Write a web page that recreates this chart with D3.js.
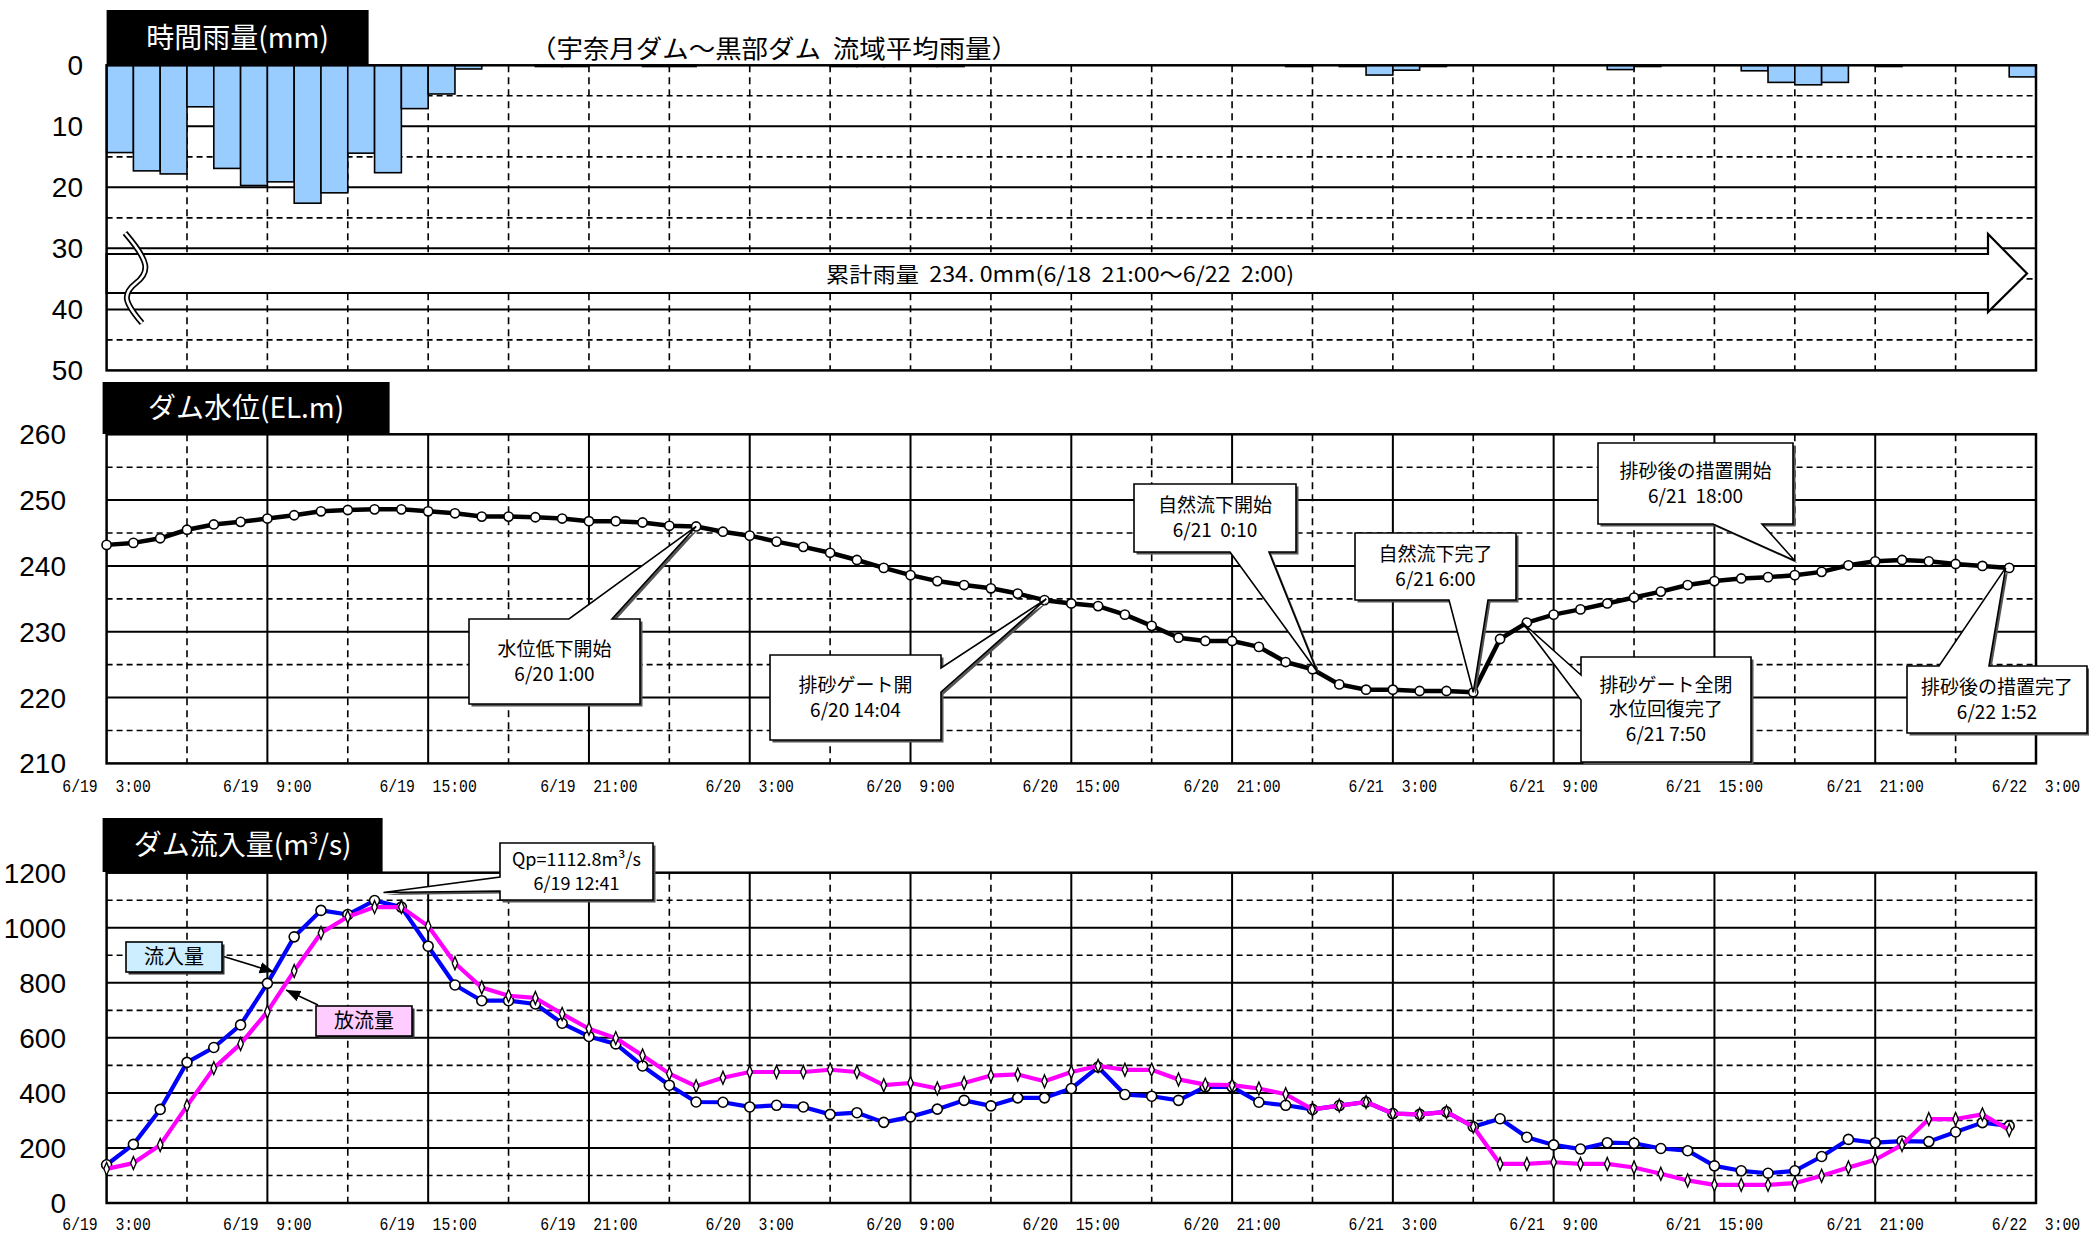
<!DOCTYPE html>
<html><head><meta charset="utf-8">
<script src="https://cdn.jsdelivr.net/npm/d3@7"></script>
<style>
html,body{margin:0;padding:0;background:#fff;}
svg{display:block;}
</style></head>
<body>
<svg id="chart" width="2089" height="1238"></svg>
<script>
// ---------------- DATA ----------------
const startTime = "2013-06-19T03:00:00";   // first hourly value (6/19 3:00)
const hoursSpan = 72;                        // axis 6/19 3:00 .. 6/22 3:00

// hourly rainfall (mm), hour starting 6/19 3:00
const rainfall = [14.3,17.3,17.8,6.8,16.9,19.7,19.1,22.6,20.9,14.4,17.6,7.1,4.7,0.6,0,0,0.2,0.2,0,0,0.2,0.2,0,0,
                  0,0,0,0.2,0.2,0.2,0.2,0.2,0,0,0,0,0,0,0,0,0,0,0,0,0.2,0,0.2,1.6,
                  0.8,0.2,0,0,0,0,0,0,0.7,0.2,0,0,0,0.9,2.8,3.2,2.8,0,0.2,0,0,0,0,1.9];

// dam water level (EL.m), hourly from 6/19 3:00 to 6/22 2:00
const damLevel = [243.2,243.5,244.2,245.5,246.3,246.7,247.2,247.7,248.3,248.5,248.6,248.6,248.3,248.0,247.5,247.5,247.4,247.2,246.8,246.8,246.6,246.1,246.0,
                  245.2,244.6,243.7,242.9,242.0,240.9,239.7,238.6,237.7,237.1,236.6,235.8,234.8,234.3,233.9,232.6,230.9,229.1,228.6,228.6,227.7,225.4,224.3,222.0,221.2,221.2,
                  221.0,221.0,220.8,228.9,231.4,232.6,233.4,234.3,235.2,236.1,237.1,237.7,238.1,238.3,238.6,239.1,240.1,240.7,240.9,240.7,240.3,240.0,239.7];

// inflow (m3/s)
const inflow = [139,213,340,511,565,647,798,967,1063,1048,1099,1075,933,792,735,735,723,653,605,578,498,428,367,
                366,349,355,349,322,328,293,313,341,373,353,382,382,416,494,394,388,373,422,422,366,355,340,354,367,325,
                322,331,277,306,239,211,196,219,217,198,190,135,117,108,117,169,231,219,225,223,258,292,280];
// outflow (m3/s)
const outflow = [124,145,211,353,490,578,695,843,981,1040,1075,1075,1006,871,783,753,745,687,633,599,536,470,424,
                 455,476,476,476,484,476,428,436,416,436,463,467,442,476,498,484,484,449,430,428,416,395,340,354,367,325,
                 322,331,277,142,142,148,142,142,129,106,82,66,66,66,72,99,129,157,211,305,305,322,265];

const rainTicks = [0,10,20,30,40,50];
const levelTicks = [210,220,230,240,250,260];
const flowTicks = [0,200,400,600,800,1000,1200];
const xTickLabels = ["6/19  3:00","6/19  9:00","6/19  15:00","6/19  21:00","6/20  3:00","6/20  9:00","6/20  15:00",
                     "6/20  21:00","6/21  3:00","6/21  9:00","6/21  15:00","6/21  21:00","6/22  3:00"];

const levelNotes = [
  {lines:["水位低下開始","6/20 1:00"], time:"2013-06-20T01:00", value:246.0, box:[469,619,171,85], edge:"top", base:[569,612]},
  {lines:["排砂ゲート開","6/20 14:04"], time:"2013-06-20T14:04", value:235.0, box:[770,655,171,85], edge:"right", base:[668,692]},
  {lines:["自然流下開始","6/21  0:10"], time:"2013-06-21T00:10", value:224.0, box:[1134,484,162,68], edge:"bottom", base:[1230,1269]},
  {lines:["自然流下完了","6/21 6:00"], time:"2013-06-21T06:00", value:220.8, box:[1355,533,161,67], edge:"bottom", base:[1449,1488]},
  {lines:["排砂ゲート全閉","水位回復完了","6/21 7:50"], time:"2013-06-21T07:50", value:231.4, box:[1581,657,170,105], edge:"left", base:[675,700]},
  {lines:["排砂後の措置開始","6/21  18:00"], time:"2013-06-21T18:00", value:240.8, box:[1598,443,195,81], edge:"bottom", base:[1713,1762]},
  {lines:["排砂後の措置完了","6/22 1:52"], time:"2013-06-22T01:52", value:239.7, box:[1907,666,180,67], edge:"top", base:[1939,1989]}
];

// ---------------- LAYOUT ----------------
const svg = d3.select("#chart");
const L = 106.6, R = 2036;
const parse = d3.isoParse;
const t0 = parse(startTime);
const tEnd = d3.timeHour.offset(t0, hoursSpan);
const x = d3.scaleTime().domain([t0, tEnd]).range([L, R]);
const hourTime = i => d3.timeHour.offset(t0, i);

const yRain = d3.scaleLinear().domain([0,50]).range([65.3, 370.4]);
const yLevel = d3.scaleLinear().domain([210,260]).range([763.4, 434.3]);
const yFlow = d3.scaleLinear().domain([0,1200]).range([1203, 872.7]);

const numFont = "'Liberation Sans', Arial, sans-serif";
const jpFont = "'Noto Sans CJK JP', 'Noto Sans', sans-serif";

function hGrid(g, y, vals, solidTest) {
  vals.forEach(v => {
    g.append("line").attr("x1", L).attr("x2", R).attr("y1", y(v)).attr("y2", y(v))
      .attr("stroke", "#000").attr("stroke-width", solidTest(v) ? 2 : 1.6)
      .attr("stroke-dasharray", solidTest(v) ? null : "6,4");
  });
}
function vGrid(g, y0, y1, allDashed) {
  for (let h = 3; h < hoursSpan; h += 3) {
    const solid = !allDashed && h % 6 === 0;
    g.append("line").attr("x1", x(hourTime(h))).attr("x2", x(hourTime(h))).attr("y1", y0).attr("y2", y1)
      .attr("stroke", "#000").attr("stroke-width", solid ? 2 : 1.6)
      .attr("stroke-dasharray", solid ? null : "7,5");
  }
}
function frame(g, y0, y1) {
  g.append("rect").attr("x", L).attr("y", y0).attr("width", R - L).attr("height", y1 - y0)
    .attr("fill", "none").attr("stroke", "#000").attr("stroke-width", 2.5);
}
function titleBox(g, x0, y0, w, h, text, sup) {
  g.append("rect").attr("x", x0).attr("y", y0).attr("width", w).attr("height", h).attr("fill", "#000");
  const t = g.append("text").attr("x", x0 + w/2).attr("y", y0 + h/2 + 10).attr("text-anchor", "middle")
    .attr("fill", "#fff").attr("font-family", jpFont).attr("font-size", 28).text(text);
  if (sup) {
    t.append("tspan").attr("font-size", 16).attr("dy", -11).text(sup.s);
    t.append("tspan").attr("font-size", 28).attr("dy", 11).text(sup.rest);
  }
}
function yLabels(g, y, ticks, xr) {
  ticks.forEach(v => g.append("text").attr("x", xr).attr("y", y(v) + 10).attr("text-anchor", "end")
    .attr("font-family", numFont).attr("font-size", 28).attr("fill", "#000").text(v));
}
function xLabels(g, yText) {
  const sx = 0.82, cw = 18 * 0.6 * sx;   // scaled monospace char width
  xTickLabels.forEach((s, i) => {
    const len = s.length * cw;
    const cx = x(hourTime(i*6));
    const startX = Math.min(cx - len/2, 2084 - len);
    g.append("text").attr("transform", `translate(${startX},${yText}) scale(${sx},1)`)
      .attr("text-anchor", "start").attr("font-family", "'Liberation Mono', 'DejaVu Sans Mono', monospace")
      .attr("font-size", 18).style("white-space", "pre").text(s);
  });
}
function calloutPath(b, edge, base, tip) {
  const [bx, by, bw, bh] = b; const [a, c] = base; const [tx, ty] = tip;
  const r = bx + bw, btm = by + bh;
  if (edge === "top") return `M${bx},${by}L${a},${by}L${tx},${ty}L${c},${by}L${r},${by}L${r},${btm}L${bx},${btm}Z`;
  if (edge === "bottom") return `M${bx},${by}L${r},${by}L${r},${btm}L${c},${btm}L${tx},${ty}L${a},${btm}L${bx},${btm}Z`;
  if (edge === "left") return `M${bx},${by}L${r},${by}L${r},${btm}L${bx},${btm}L${bx},${c}L${tx},${ty}L${bx},${a}Z`;
  return `M${bx},${by}L${r},${by}L${r},${a}L${tx},${ty}L${r},${c}L${r},${btm}L${bx},${btm}Z`;
}
function callout(g, note, tip, fontSize) {
  const p = calloutPath(note.box, note.edge, note.base, tip);
  g.append("path").attr("d", p).attr("transform", "translate(2.5,2.5)").attr("fill", "#555");
  g.append("path").attr("d", p).attr("fill", "#fff").attr("stroke", "#000").attr("stroke-width", 1.6);
  const [bx, by, bw, bh] = note.box;
  const n = note.lines.length, lh = fontSize * 1.3;
  const cy = by + bh/2;
  note.lines.forEach((s, i) => g.append("text").attr("x", bx + bw/2)
    .attr("y", cy + (i - (n-1)/2) * lh + fontSize*0.36).attr("text-anchor", "middle")
    .attr("font-family", jpFont).attr("font-size", fontSize).attr("fill", "#000")
    .style("white-space", "pre").text(s));
}

// ---------------- PANEL 1: RAIN ----------------
const g1 = svg.append("g");
hGrid(g1, yRain, [5,10,15,20,25,30,35,40,45], v => v % 10 === 0);
vGrid(g1, yRain(0), yRain(50), true);
g1.selectAll("rect.bar").data(rainfall).join("rect").attr("class", "bar")
  .attr("x", (d, i) => x(hourTime(i))).attr("width", (d, i) => x(hourTime(i+1)) - x(hourTime(i)))
  .attr("y", yRain(0)).attr("height", d => yRain(d) - yRain(0))
  .attr("fill", "#99ccff").attr("stroke", "#000").attr("stroke-width", 1.6);
// cumulative arrow
const arrowBodyTop = 254, arrowBodyBot = 293, headX = 1988, headTop = 234, headBot = 312, tipX = 2027;
g1.append("path").attr("d", `M${L},${arrowBodyTop}L${headX},${arrowBodyTop}L${headX},${headTop}L${tipX},${(arrowBodyTop+arrowBodyBot)/2}L${headX},${headBot}L${headX},${arrowBodyBot}L${L},${arrowBodyBot}Z`)
  .attr("fill", "#fff").attr("stroke", "#000").attr("stroke-width", 2.2);
// break mark
const brk = "M125,233 C150,262 150,272 136,283 S124,302 142,323";
g1.append("path").attr("d", brk).attr("fill", "none").attr("stroke", "#000").attr("stroke-width", 6);
g1.append("path").attr("d", brk).attr("fill", "none").attr("stroke", "#fff").attr("stroke-width", 2.6);
g1.append("text").attr("x", 1060).attr("y", 282).attr("text-anchor", "middle").attr("font-family", jpFont)
  .attr("font-size", 21).attr("textLength", 468).attr("lengthAdjust", "spacingAndGlyphs")
  .style("white-space", "pre").text("累計雨量  234. 0mm(6/18  21:00〜6/22  2:00)");
frame(g1, yRain(0), yRain(50));
yLabels(g1, yRain, rainTicks, 83);
titleBox(g1, 106.6, 10, 262, 55, "時間雨量(mm)");
g1.append("text").attr("x", 530).attr("y", 58).attr("font-family", jpFont).attr("font-size", 25)
  .attr("textLength", 488).attr("lengthAdjust", "spacingAndGlyphs").style("white-space", "pre")
  .text("（宇奈月ダム〜黒部ダム  流域平均雨量）");

// ---------------- PANEL 2: LEVEL ----------------
const g2 = svg.append("g");
hGrid(g2, yLevel, [215,220,225,230,235,240,245,250,255], v => v % 10 === 0);
vGrid(g2, yLevel(260), yLevel(210), false);
frame(g2, yLevel(260), yLevel(210));
const lvlLine = d3.line().x((d, i) => x(hourTime(i))).y(d => yLevel(d));
g2.append("path").attr("d", lvlLine(damLevel)).attr("fill", "none").attr("stroke", "#000").attr("stroke-width", 4.5)
  .attr("stroke-linejoin", "round");
g2.selectAll("circle").data(damLevel).join("circle").attr("cx", (d, i) => x(hourTime(i))).attr("cy", d => yLevel(d))
  .attr("r", 4.6).attr("fill", "#fff").attr("stroke", "#000").attr("stroke-width", 1.6);
levelNotes.forEach(n => callout(g2, n, [x(parse(n.time)), yLevel(n.value)], 19));
yLabels(g2, yLevel, levelTicks, 66);
xLabels(g2, 792);
titleBox(g2, 102.6, 382, 287, 52, "ダム水位(EL.m)");

// ---------------- PANEL 3: FLOW ----------------
const g3 = svg.append("g");
hGrid(g3, yFlow, [100,200,300,400,500,600,700,800,900,1000,1100], v => v % 200 === 0);
vGrid(g3, yFlow(1200), yFlow(0), false);
frame(g3, yFlow(1200), yFlow(0));
const flowLine = d3.line().x((d, i) => x(hourTime(i))).y(d => yFlow(d));
g3.append("path").attr("d", flowLine(inflow)).attr("fill", "none").attr("stroke", "#0000ff").attr("stroke-width", 4.2)
  .attr("stroke-linejoin", "round");
g3.selectAll("circle.in").data(inflow).join("circle").attr("class", "in")
  .attr("cx", (d, i) => x(hourTime(i))).attr("cy", d => yFlow(d))
  .attr("r", 5).attr("fill", "#fff").attr("stroke", "#000").attr("stroke-width", 1.6);
g3.append("path").attr("d", flowLine(outflow)).attr("fill", "none").attr("stroke", "#ff00ff").attr("stroke-width", 4.2)
  .attr("stroke-linejoin", "round");
const diamond = d3.symbol().type(d3.symbolDiamond).size(40);
g3.selectAll("path.out").data(outflow).join("path").attr("class", "out")
  .attr("transform", (d, i) => `translate(${x(hourTime(i))},${yFlow(d)}) scale(0.8,1.1)`)
  .attr("d", diamond).attr("fill", "#fff").attr("stroke", "#000").attr("stroke-width", 1.6);
// Qp callout
callout(g3, {lines:["Qp=1112.8m³/s","6/19 12:41"], box:[500,843,153,57], edge:"left", base:[877,891]},
  [x(parse("2013-06-19T13:20")), yFlow(1128)], 18);
// legend boxes with arrows
svg.append("defs").append("marker").attr("id", "ah").attr("viewBox", "0 0 10 10").attr("refX", 10).attr("refY", 5)
  .attr("markerWidth", 9).attr("markerHeight", 9).attr("orient", "auto")
  .append("path").attr("d", "M0,1L10,5L0,9Z").attr("fill", "#000");
function legendBox(g, bx, by, w, h, fill, label, from, to) {
  g.append("line").attr("x1", from[0]).attr("y1", from[1]).attr("x2", to[0]).attr("y2", to[1])
    .attr("stroke", "#000").attr("stroke-width", 1.6).attr("marker-end", "url(#ah)");
  g.append("rect").attr("x", bx + 2.5).attr("y", by + 2.5).attr("width", w).attr("height", h).attr("fill", "#333");
  g.append("rect").attr("x", bx).attr("y", by).attr("width", w).attr("height", h).attr("fill", fill)
    .attr("stroke", "#000").attr("stroke-width", 1.6);
  g.append("text").attr("x", bx + w/2).attr("y", by + h/2 + 7).attr("text-anchor", "middle")
    .attr("font-family", jpFont).attr("font-size", 20).text(label);
}
legendBox(g3, 126, 942, 96, 30, "#cceeff", "流入量", [222, 956], [274, 972]);
legendBox(g3, 316, 1006, 96, 30, "#ffccff", "放流量", [318, 1005], [286, 990]);
yLabels(g3, yFlow, flowTicks, 66);
xLabels(g3, 1230);
titleBox(g3, 102.6, 818, 280, 54, "ダム流入量(m", {s:"3", rest:"/s)"});
</script>
</body></html>
